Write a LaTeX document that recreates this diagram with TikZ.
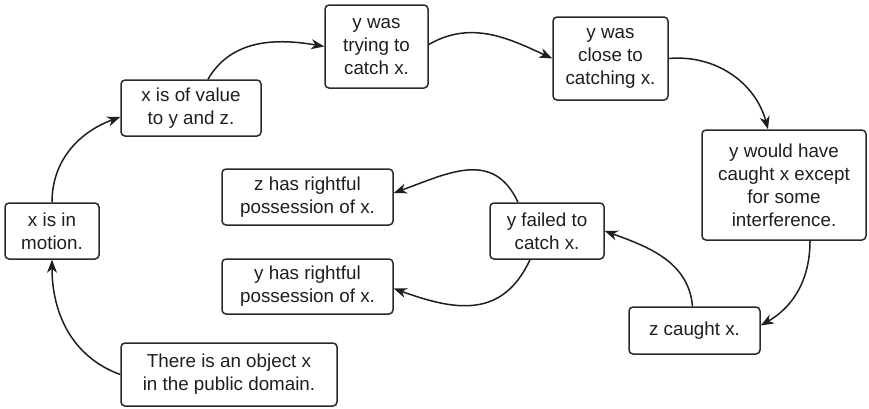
\documentclass[tikz,border=0pt]{standalone}
\usepackage{fontspec}
\setmainfont{Liberation Sans}
\usetikzlibrary{arrows.meta}
\definecolor{ink}{HTML}{1E1E1E}
\definecolor{boxline}{HTML}{2A2A2A}
\begin{document}
\begin{tikzpicture}[x=1pt,y=1pt,
  stepbox/.style={draw=boxline, line width=1.5pt, rounded corners=4pt, align=center,
    inner sep=0pt, text=ink, font=\fontsize{18.8}{23}\selectfont},
  link/.style={draw=ink, line width=1.5pt, -{Stealth[length=13pt,width=10pt,inset=4pt]}}]
\useasboundingbox (0,0) rectangle (869,-408);

% the chain of events
\node[stepbox, minimum width=216pt, minimum height=63pt] (A) at (229,-374.5) {There is an object x\\in the public domain.};
\node[stepbox, minimum width=94pt,  minimum height=56pt] (B) at (52,-231) {x is in\\motion.};
\node[stepbox, minimum width=140pt, minimum height=56pt] (C) at (191,-108) {x is of value\\to y and z.};
\node[stepbox, minimum width=103pt, minimum height=83pt] (D) at (376.5,-46.5) {y was\\trying to\\catch x.};
\node[stepbox, minimum width=115pt, minimum height=83pt] (E) at (610.5,-58.5) {y was\\close to\\catching x.};
\node[stepbox, minimum width=164pt, minimum height=110pt] (F) at (784,-185) {y would have\\caught x except\\for some\\interference.};
\node[stepbox, minimum width=131pt, minimum height=47pt] (G) at (694.5,-330.5) {z caught x.};
\node[stepbox, minimum width=114pt, minimum height=56pt] (H) at (547,-231) {y failed to\\catch x.};
\node[stepbox, minimum width=171pt, minimum height=56pt] (I) at (307.5,-197) {z has rightful\\possession of x.};
\node[stepbox, minimum width=171pt, minimum height=55pt] (J) at (307.5,-286.5) {y has rightful\\possession of x.};

% connectors
\draw[link] (A.west) to[out=160,in=-90] (B.south);
\draw[link] (B.north) to[out=90,in=200] ([yshift=-9pt]C.west);
\draw[link] ([xshift=17pt]C.north) to[out=60,in=170] (D.west);
\draw[link] ([yshift=2pt]D.east) to[out=30,in=155] (E.west);
\draw[link] (E.east) to[out=5,in=105] ([xshift=-16pt]F.north);
\draw[link] ([xshift=26pt]F.south) to[out=-90,in=30] ([yshift=5pt]G.east);
\draw[link] ([xshift=-2pt]G.north) to[out=95,in=-20] (H.east);
\draw[link] ([xshift=-29pt]H.north) to[out=115,in=20,looseness=1.2] ([yshift=4pt]I.east);
\draw[link] ([xshift=-17pt]H.south) to[out=-115,in=-20,looseness=1.2] ([yshift=-2pt]J.east);
\end{tikzpicture}
\end{document}
